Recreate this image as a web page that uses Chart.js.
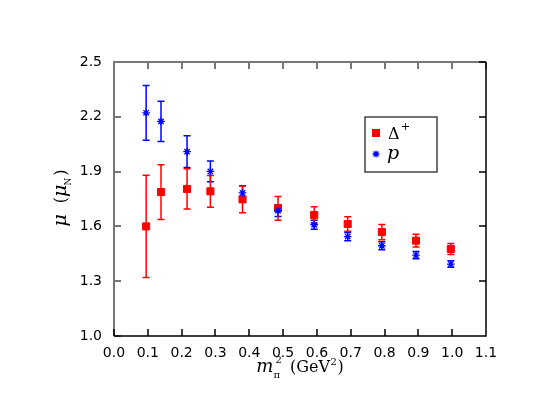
<!DOCTYPE html>
<html><head><meta charset="utf-8">
<script src="https://cdn.jsdelivr.net/npm/chart.js@4.4.1/dist/chart.umd.min.js"></script>
<style>html,body{margin:0;padding:0;background:#fff}canvas{display:block}</style>
</head><body>
<canvas id="c" width="538" height="416"></canvas>
<script>
// Data
const mpi2     = [0.095, 0.139, 0.216, 0.285, 0.380, 0.485, 0.592, 0.691, 0.792, 0.893, 0.996];
const deltaMu  = [1.600, 1.788, 1.805, 1.792, 1.748, 1.699, 1.662, 1.613, 1.569, 1.522, 1.476];
const deltaErr = [0.280, 0.150, 0.110, 0.087, 0.073, 0.065, 0.045, 0.040, 0.042, 0.035, 0.030];
const pMu      = [2.222, 2.175, 2.009, 1.901, 1.783, 1.686, 1.609, 1.544, 1.494, 1.443, 1.394];
const pErr     = [0.150, 0.110, 0.087, 0.057, 0.040, 0.032, 0.024, 0.022, 0.022, 0.020, 0.018];
const xTicks   = [0.0, 0.1, 0.2, 0.3, 0.4, 0.5, 0.6, 0.7, 0.8, 0.9, 1.0, 1.1];
const yTicks   = [1.0, 1.3, 1.6, 1.9, 2.2, 2.5];

const RED = '#ff0000', BLUE = '#0000ff';

function pts(xs, ys) { return xs.map((x, i) => ({x: x, y: ys[i]})); }

const errorBars = {
  id: 'errorBars',
  beforeDatasetsDraw(chart) {
    const ctx = chart.ctx, xs = chart.scales.x, ys = chart.scales.y;
    chart.data.datasets.forEach((ds) => {
      if (!ds.err) return;
      ctx.save();
      ctx.strokeStyle = ds.errColor;
      ctx.lineWidth = 1.5;
      ds.data.forEach((p, i) => {
        const px = xs.getPixelForValue(p.x);
        const top = ys.getPixelForValue(p.y + ds.err[i]);
        const bot = ys.getPixelForValue(p.y - ds.err[i]);
        ctx.beginPath();
        ctx.moveTo(px, top); ctx.lineTo(px, bot);
        ctx.moveTo(px - 3.5, top); ctx.lineTo(px + 3.5, top);
        ctx.moveTo(px - 3.5, bot); ctx.lineTo(px + 3.5, bot);
        ctx.stroke();
      });
      ctx.restore();
    });
  }
};

const frame = {
  id: 'frame',
  afterDraw(chart) {
    const ctx = chart.ctx, a = chart.chartArea, xs = chart.scales.x, ys = chart.scales.y;
    const T = 7;
    ctx.save();
    ctx.strokeStyle = '#777'; ctx.lineWidth = 2;
    ctx.beginPath();
    ctx.moveTo(a.left, a.bottom); ctx.lineTo(a.left, a.top); ctx.lineTo(a.right, a.top);
    xTicks.forEach(v => { const px = Math.round(xs.getPixelForValue(v)); ctx.moveTo(px, a.top); ctx.lineTo(px, a.top + T); });
    yTicks.forEach(v => { const py = Math.round(ys.getPixelForValue(v)); ctx.moveTo(a.left, py); ctx.lineTo(a.left + T, py); });
    ctx.stroke();
    ctx.strokeStyle = '#000'; ctx.lineWidth = 1.5;
    ctx.beginPath();
    ctx.moveTo(a.left, a.bottom); ctx.lineTo(a.right, a.bottom); ctx.lineTo(a.right, a.top);
    xTicks.forEach(v => { const px = Math.round(xs.getPixelForValue(v)); ctx.moveTo(px, a.bottom); ctx.lineTo(px, a.bottom - T); });
    yTicks.forEach(v => { const py = Math.round(ys.getPixelForValue(v)); ctx.moveTo(a.right, py); ctx.lineTo(a.right - T, py); });
    ctx.stroke();
    ctx.restore();
  }
};

const labels = {
  id: 'labels',
  afterDraw(chart) {
    const ctx = chart.ctx;
    ctx.save();
    ctx.fillStyle = '#000';
    ctx.textBaseline = 'alphabetic';
    const fM = 'italic 18px "DejaVu Serif"', fSub = '10px "DejaVu Serif"', fTxt = '16px "DejaVu Serif"', fSup = '10px "DejaVu Serif"';
    ctx.font = fM; const wM = ctx.measureText('m').width;
    ctx.font = fSub; const wPi = ctx.measureText('π').width;
    ctx.font = fTxt; const wG = ctx.measureText('(GeV').width; const wP = ctx.measureText(')').width;
    ctx.font = fSup; const w2 = ctx.measureText('2').width;
    const total = wM + wPi + 2 + 8 + wG + w2 + 1 + wP;
    let x = 300 - total / 2; const base = 372;
    ctx.font = fM; ctx.fillText('m', x, base); x += wM;
    ctx.font = fSub; ctx.fillText('π', x, base + 6); ctx.font = fSup; ctx.fillText('2', x + 2, base - 9); x += wPi + 2 + 8;
    ctx.font = fTxt; ctx.fillText('(GeV', x, base); x += wG;
    ctx.font = fSup; ctx.fillText('2', x + 0.5, base - 7); x += w2 + 1;
    ctx.font = fTxt; ctx.fillText(')', x, base);

    ctx.save();
    ctx.translate(66, 198);
    ctx.rotate(-Math.PI / 2);
    const fMu = 'italic 19px "DejaVu Serif"', fN = '9px "DejaVu Serif"', fPar = '16px "DejaVu Serif"';
    ctx.font = fMu; const wMu = ctx.measureText('μ').width;
    ctx.font = fPar; const wOpen = ctx.measureText(' (').width, wClose = ctx.measureText(')').width;
    ctx.font = fN; const wN = ctx.measureText('N').width;
    const tot = wMu + 6 + wOpen + wMu + wN + 1 + wClose;
    let y = -tot / 2;
    ctx.font = fMu; ctx.fillText('μ', y, 0); y += wMu + 6;
    ctx.font = fPar; ctx.fillText(' (', y, 0); y += wOpen;
    ctx.font = fMu; ctx.fillText('μ', y, 0); y += wMu;
    ctx.font = fN; ctx.fillText('N', y - 1, 5); y += wN + 1;
    ctx.font = fPar; ctx.fillText(')', y, 0);
    ctx.restore();

    ctx.strokeStyle = '#444'; ctx.lineWidth = 1.5;
    ctx.strokeRect(365, 117, 72, 55);
    ctx.fillStyle = RED; ctx.fillRect(372, 129, 8, 8);
    ctx.fillStyle = '#000';
    ctx.font = '16px "DejaVu Serif"'; ctx.fillText('Δ', 388, 139);
    ctx.font = '11px "DejaVu Serif"'; ctx.fillText('+', 401, 130);
    ctx.font = 'italic 19px "DejaVu Serif"'; ctx.fillText('p', 387, 159);
    ctx.strokeStyle = BLUE; ctx.lineWidth = 1.3;
    const cx = 376, cy = 154, r = 3.5;
    ctx.beginPath();
    for (let k = 0; k < 4; k++) {
      const ang = k * Math.PI / 4;
      ctx.moveTo(cx - r * Math.cos(ang), cy - r * Math.sin(ang));
      ctx.lineTo(cx + r * Math.cos(ang), cy + r * Math.sin(ang));
    }
    ctx.stroke();
    ctx.restore();
  }
};

new Chart(document.getElementById('c'), {
  type: 'scatter',
  data: {
    datasets: [
      { label: 'p', data: pts(mpi2, pMu), err: pErr, errColor: BLUE, order: 0,
        pointStyle: 'star', pointRadius: 3.8, borderWidth: 1.3, borderColor: BLUE, backgroundColor: BLUE },
      { label: 'Δ+', data: pts(mpi2, deltaMu), err: deltaErr, errColor: RED, order: 1,
        pointStyle: 'rect', pointRadius: 5, borderWidth: 1, borderColor: RED, backgroundColor: RED }
    ]
  },
  options: {
    responsive: false, animation: false, devicePixelRatio: 1,
    layout: { padding: { left: 0, right: 52, top: 62, bottom: 0 } },
    plugins: { legend: { display: false }, tooltip: { enabled: false } },
    scales: {
      x: {
        type: 'linear', min: 0, max: 1.1,
        afterBuildTicks: s => { s.ticks = xTicks.map(v => ({value: v})); },
        afterFit: s => { s.height = 80; },
        grid: { display: false, drawTicks: false }, border: { display: false },
        ticks: { color: '#000', padding: 9, maxRotation: 0, autoSkip: false,
                 font: { family: 'DejaVu Sans', size: 14 }, callback: v => Number(v).toFixed(1) }
      },
      y: {
        type: 'linear', min: 1.0, max: 2.5,
        afterBuildTicks: s => { s.ticks = yTicks.map(v => ({value: v})); },
        afterFit: s => { s.width = 114; },
        grid: { display: false, drawTicks: false }, border: { display: false },
        ticks: { color: '#000', padding: 12, autoSkip: false,
                 font: { family: 'DejaVu Sans', size: 14 }, callback: v => Number(v).toFixed(1) }
      }
    }
  },
  plugins: [errorBars, frame, labels]
});
</script>
</body></html>
